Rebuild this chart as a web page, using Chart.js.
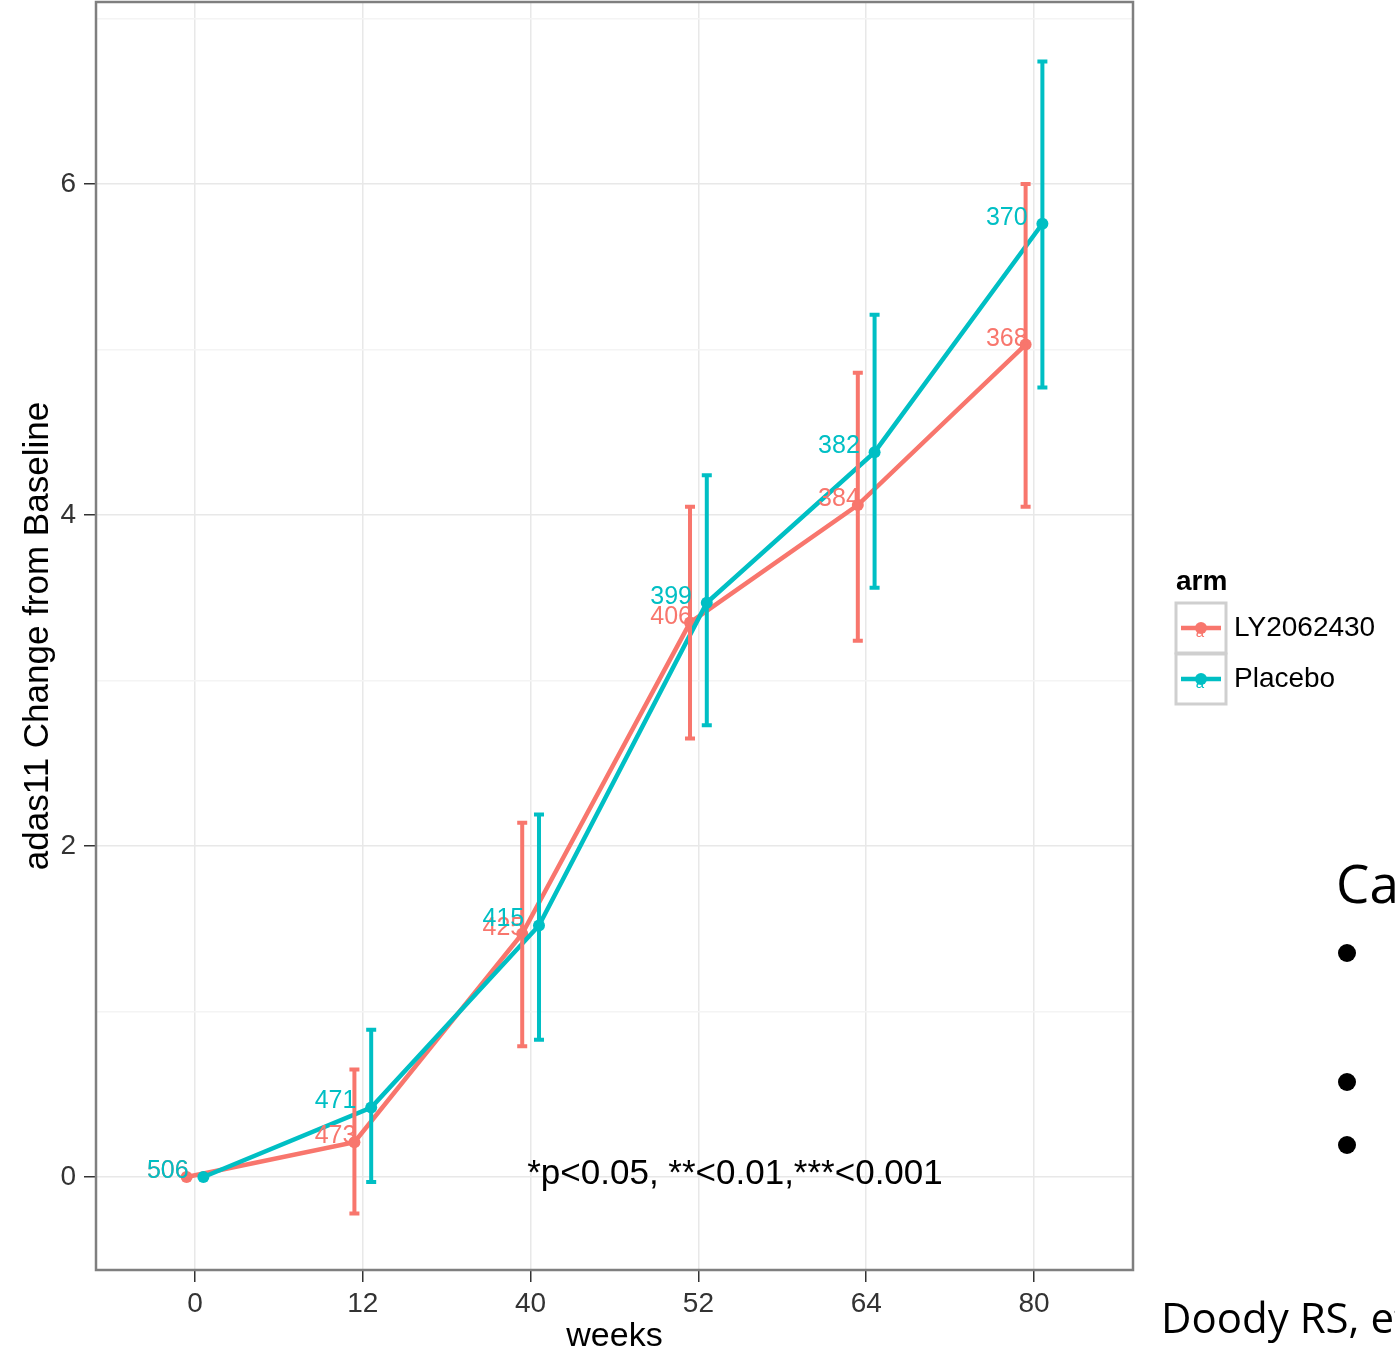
<!DOCTYPE html>
<html>
<head>
<meta charset="utf-8">
<script src="https://cdn.jsdelivr.net/npm/chart.js@4.4.1/dist/chart.umd.min.js"></script>
<style>
  html, body { margin: 0; padding: 0; background: #fff; }
  #wrap { position: relative; width: 1395px; height: 1361px; overflow: hidden; }
  #chart { position: absolute; left: 0; top: -4px; }
  .slide { position: absolute; font-family: 'Open Sans', sans-serif; color: #000; white-space: nowrap; }
  .dot { position: absolute; width: 18px; height: 18px; border-radius: 50%; background: #000; }
</style>
</head>
<body>
<div id="wrap">
  <canvas id="chart" width="1395" height="1365"></canvas>
  <div class="slide" style="left:1336px; top:856px; font-size:53px; line-height:53px;">Ca</div>
  <div class="dot" style="left:1338px; top:944px;"></div>
  <div class="dot" style="left:1338px; top:1073px;"></div>
  <div class="dot" style="left:1338px; top:1136px;"></div>
  <div class="slide" style="left:1161px; top:1296px; font-size:42px; line-height:42px;">Doody RS, et</div>
</div>
<script>
// ─── Data ──────────────────────────────────────────────
const weeks = ['0', '12', '40', '52', '64', '80'];

const lyMean = [0.00, 0.21, 1.47, 3.35, 4.06, 5.03];
const lyLow  = [0.00, -0.22, 0.79, 2.65, 3.24, 4.05];
const lyHigh = [0.00, 0.65, 2.14, 4.05, 4.86, 6.00];
const lyN    = [506, 473, 425, 406, 384, 368];

const pbMean = [0.00, 0.42, 1.52, 3.47, 4.38, 5.76];
const pbLow  = [0.00, -0.03, 0.83, 2.73, 3.56, 4.77];
const pbHigh = [0.00, 0.89, 2.19, 4.24, 5.21, 6.74];
const pbN    = [506, 471, 415, 399, 382, 370];

const yTicks = [0, 1, 2, 3, 4, 5, 6, 7];

const RED = '#F8766D';
const CYAN = '#00BFC4';
const FONT = "'Liberation Sans', Arial, sans-serif";
const DODGE = 0.05;
const OY = 4; // canvas sits 4px above the page top

const series = [
  { name: 'LY2062430', color: RED, mean: lyMean, low: lyLow, high: lyHigh, n: lyN, off: -DODGE },
  { name: 'Placebo', color: CYAN, mean: pbMean, low: pbLow, high: pbHigh, n: pbN, off: DODGE },
];

// ─── Extras: error bars, n labels, legend, titles, border ──
const extras = {
  id: 'extras',
  afterDatasetsDraw(chart) {
    const { ctx, chartArea: a } = chart;
    const xs = chart.scales.x, ys = chart.scales.y;
    ctx.save();
    ctx.beginPath();
    ctx.rect(a.left, a.top, a.right - a.left, a.bottom - a.top);
    ctx.clip();

    // error bars
    series.forEach((s) => {
      ctx.strokeStyle = s.color;
      ctx.lineWidth = 4;
      s.mean.forEach((m, i) => {
        if (s.high[i] === s.low[i]) return;
        const x = xs.getPixelForValue(i + s.off);
        const y1 = ys.getPixelForValue(s.high[i]);
        const y2 = ys.getPixelForValue(s.low[i]);
        ctx.beginPath();
        ctx.moveTo(x, y1); ctx.lineTo(x, y2);
        ctx.moveTo(x - 5, y1); ctx.lineTo(x + 5, y1);
        ctx.moveTo(x - 5, y2); ctx.lineTo(x + 5, y2);
        ctx.stroke();
      });
    });

    // n labels
    ctx.font = '25px ' + FONT;
    ctx.textAlign = 'right';
    ctx.textBaseline = 'alphabetic';
    series.forEach((s) => {
      ctx.fillStyle = s.color;
      s.n.forEach((n, i) => {
        const x = xs.getPixelForValue(i - DODGE) + 2;
        const y = ys.getPixelForValue(s.mean[i]) + 1;
        ctx.fillText(String(n), x, y);
      });
    });

    // significance note
    ctx.fillStyle = '#000';
    ctx.font = '35px ' + FONT;
    ctx.textAlign = 'left';
    ctx.fillText('*p<0.05, **<0.01,***<0.001', xs.getPixelForValue(1.98), ys.getPixelForValue(0) + 7);
    ctx.restore();

    // panel border
    ctx.save();
    ctx.strokeStyle = '#7f7f7f';
    ctx.lineWidth = 2.5;
    ctx.strokeRect(a.left, a.top, a.right - a.left, a.bottom - a.top);

    // axis titles
    ctx.fillStyle = '#000';
    ctx.font = '34px ' + FONT;
    ctx.textAlign = 'center';
    ctx.textBaseline = 'middle';
    ctx.fillText('weeks', (a.left + a.right) / 2, 1337 + OY);
    ctx.save();
    ctx.translate(38, (a.top + a.bottom) / 2);
    ctx.rotate(-Math.PI / 2);
    ctx.font = '35px ' + FONT;
    ctx.fillText('adas11 Change from Baseline', 0, 0);
    ctx.restore();

    // legend
    ctx.textAlign = 'left';
    ctx.textBaseline = 'alphabetic';
    ctx.font = 'bold 28px ' + FONT;
    ctx.fillText('arm', 1176, 590 + OY);
    series.forEach((s, k) => {
      const top = 603 + OY + k * 51;
      const cy = top + 25;
      ctx.fillStyle = '#fff';
      ctx.fillRect(1176, top, 50, 50);
      ctx.strokeStyle = '#cfcfcf';
      ctx.lineWidth = 3;
      ctx.strokeRect(1176, top, 50, 50);
      ctx.strokeStyle = s.color;
      ctx.lineWidth = 4.5;
      ctx.beginPath();
      ctx.moveTo(1181, cy); ctx.lineTo(1221, cy);
      ctx.stroke();
      ctx.fillStyle = s.color;
      ctx.beginPath();
      ctx.arc(1201, cy, 6, 0, Math.PI * 2);
      ctx.fill();
      ctx.font = '15px ' + FONT;
      ctx.textAlign = 'center';
      ctx.textBaseline = 'middle';
      ctx.fillText('a', 1200, cy + 5);
      ctx.fillStyle = '#000';
      ctx.font = '28px ' + FONT;
      ctx.textAlign = 'left';
      ctx.fillText(s.name, 1234, cy);
      ctx.textBaseline = 'alphabetic';
    });
    ctx.restore();
  },
};

new Chart(document.getElementById('chart'), {
  type: 'scatter',
  data: {
    datasets: series.map((s, k) => ({
      label: s.name,
      data: s.mean.map((m, i) => ({ x: i + s.off, y: m })),
      showLine: true,
      borderColor: s.color,
      backgroundColor: s.color,
      borderWidth: 4.5,
      pointRadius: 6,
      pointBorderWidth: 0,
      order: 2 - k,
    })),
  },
  options: {
    responsive: false,
    animation: false,
    events: [],
    layout: { padding: { left: 0, top: 2, right: 262, bottom: 0 } },
    plugins: { legend: { display: false }, tooltip: { enabled: false } },
    scales: {
      x: {
        type: 'linear',
        min: -0.59,
        max: 5.59,
        afterBuildTicks: (s) => { s.ticks = weeks.map((w, i) => ({ value: i })); },
        afterFit: (s) => { s.height = 91; s.paddingLeft = 0; s.paddingRight = 0; },
        ticks: {
          callback: (v) => weeks[v],
          autoSkip: false,
          maxRotation: 0,
          font: { size: 28, family: FONT },
          color: '#333',
          padding: 5,
        },
        grid: { color: '#e8e8e8', lineWidth: 1.5, tickLength: 12, tickColor: '#333', tickWidth: 1.5 },
        border: { display: false },
      },
      y: {
        min: -0.562,
        max: 7.10,
        afterBuildTicks: (s) => { s.ticks = yTicks.map((v) => ({ value: v })); },
        afterFit: (s) => { s.width = 96; s.paddingTop = 0; s.paddingBottom = 0; },
        ticks: {
          callback: (v) => (v % 2 === 0 ? String(v) : ''),
          autoSkip: false,
          font: { size: 28, family: FONT },
          color: '#333',
          padding: 8,
        },
        grid: {
          color: (c) => (c.tick && c.tick.value % 2 === 0 ? '#e8e8e8' : '#f4f4f4'),
          lineWidth: 1.5,
          tickLength: 12,
          tickColor: (c) => (c.tick && c.tick.value % 2 === 0 ? '#333' : 'rgba(0,0,0,0)'),
          tickWidth: 1.5,
        },
        border: { display: false },
      },
    },
  },
  plugins: [extras],
});
</script>
</body>
</html>
